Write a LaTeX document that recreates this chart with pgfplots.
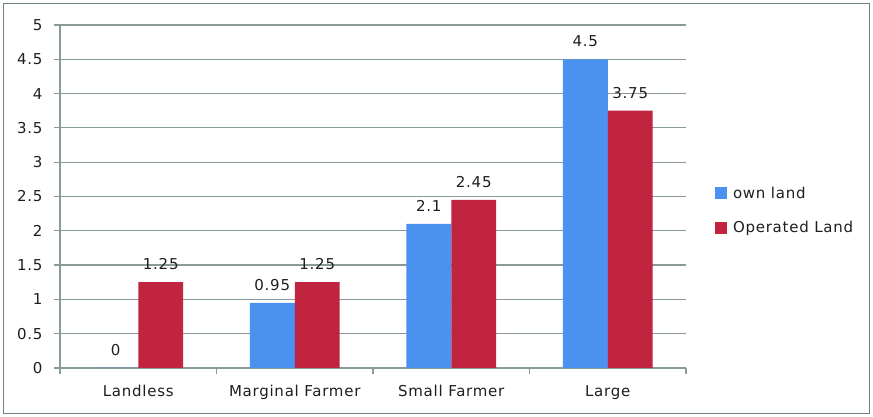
\documentclass[border=0pt]{standalone}
\usepackage{fontspec}
\setmainfont{DejaVu Sans}[LetterSpace=5]
\usepackage{pgfplots}
\pgfplotsset{compat=1.18}
\definecolor{ownblue}{RGB}{74,145,240}
\definecolor{opred}{RGB}{192,36,62}
\definecolor{gridgrey}{RGB}{138,154,154}
\definecolor{framegrey}{RGB}{112,128,128}
\definecolor{txt}{RGB}{30,30,30}

\begin{document}
\begin{tikzpicture}[x=1pt,y=1pt]
\path[use as bounding box] (0,0) rectangle (873,417);
\draw[framegrey, line width=1.6pt] (3.5,3.5) rectangle (869.5,413.5);
\begin{axis}[
  at={(60pt,49pt)}, anchor=south west,
  scale only axis, width=626pt, height=343pt,
  xmin=-0.5, xmax=3.5, ymin=0, ymax=5,
  ybar=0pt, bar width=0.2875,
  axis x line*=bottom, axis y line*=left,
  axis line style={gridgrey, line width=1.2pt},
  ymajorgrids, grid style={gridgrey, line width=1.2pt},
  ytick={0,0.5,1,1.5,2,2.5,3,3.5,4,4.5,5},
  tick align=outside, major tick length=6pt,
  tick style={gridgrey, line width=1.2pt},
  xtick={-0.5,0.5,1.5,2.5,3.5}, xticklabels={{},{},{},{},{}},
  extra x ticks={0,1,2,3},
  extra x tick labels={Landless, Marginal Farmer, Small Farmer, Large},
  extra x tick style={major tick length=0pt},
  /pgf/number format/assume math mode=true,
  tick label style={font=\fontsize{15}{17}\selectfont, text=txt},
  y tick label style={xshift=-8pt},
  x tick label style={yshift=-14pt},
  nodes near coords,
  every node near coord/.append style={anchor=center, yshift=18pt,
    font=\fontsize{15}{17}\selectfont, text=txt},
  legend style={at={(1.046,0.459)}, anchor=west, draw=none, fill=none,
    inner sep=0pt, font=\fontsize{15}{17}\selectfont, text=txt,
    row sep=18pt, cells={anchor=west}},
  legend image code/.code={\fill[#1] (0pt,-6pt) rectangle (12pt,6pt);
    \path (16pt,0pt);},
]
\addplot[fill=ownblue, draw=none] coordinates {(0,0) (1,0.95) (2,2.1) (3,4.5)};
\addplot[fill=opred, draw=none] coordinates {(0,1.25) (1,1.25) (2,2.45) (3,3.75)};
\legend{own land, Operated Land}
\end{axis}
\end{tikzpicture}
\end{document}
